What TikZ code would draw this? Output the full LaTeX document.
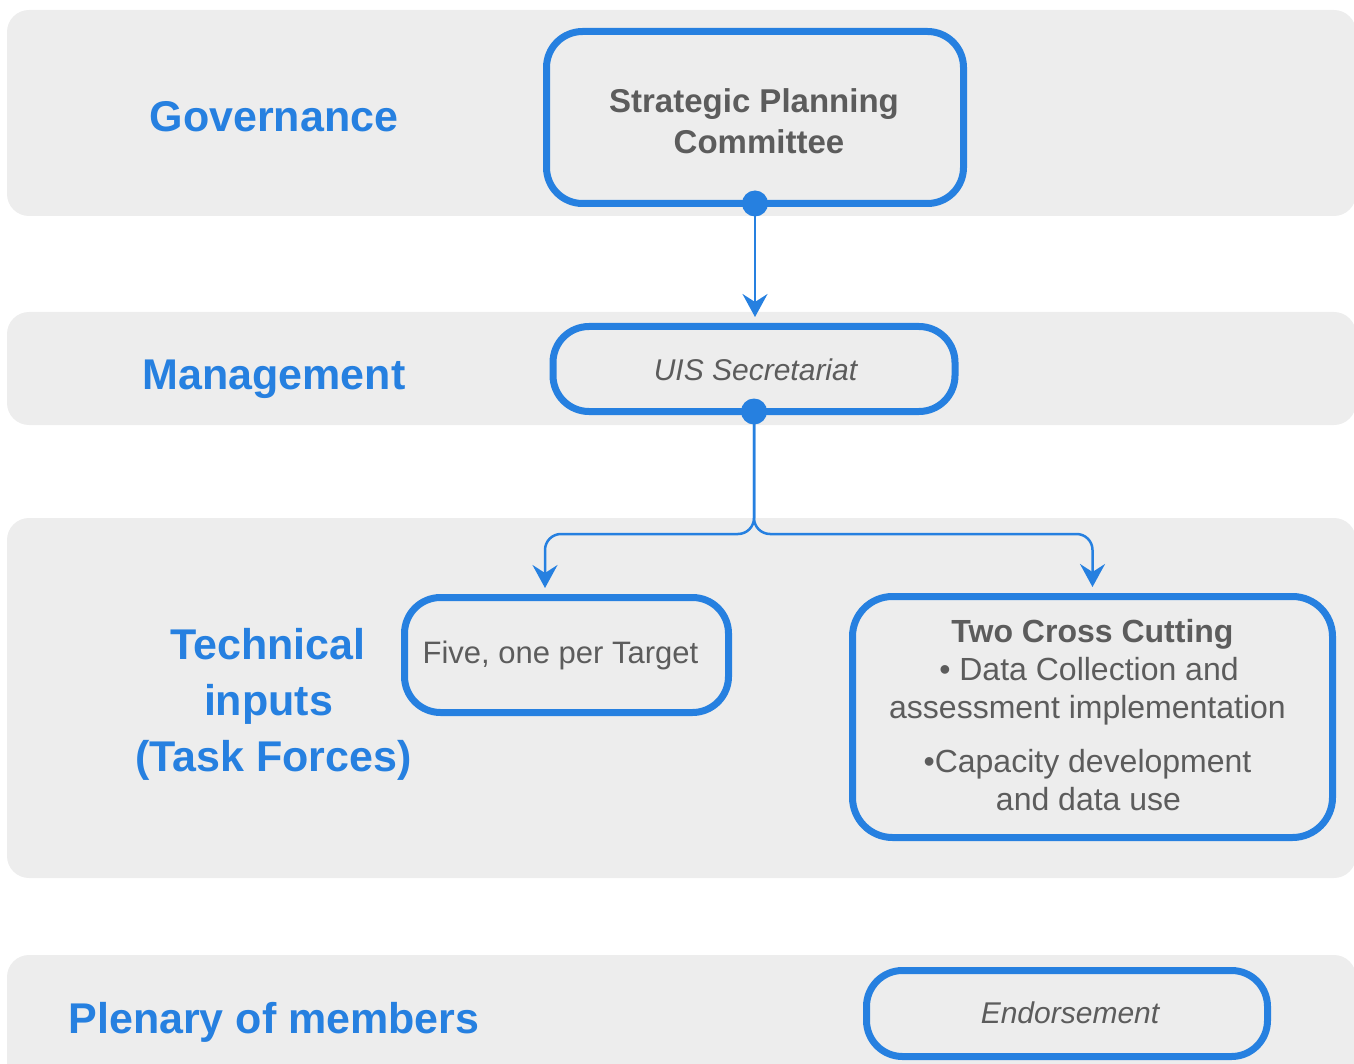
\documentclass[tikz,border=0pt]{standalone}
\usepackage{fontspec}
\setmainfont{Liberation Sans}
\usetikzlibrary{arrows.meta}
\definecolor{bandgray}{HTML}{EDEDED}
\definecolor{uisblue}{HTML}{2680E0}
\definecolor{txtgray}{HTML}{5C5C5C}
\begin{document}
\begin{tikzpicture}[x=1pt,y=-1pt,
  band/.style={fill=bandgray, rounded corners=22pt},
  box/.style={draw=uisblue, line width=7pt, rounded corners=36pt, outer sep=0pt, inner sep=0pt, fill=bandgray},
  conn/.style={draw=uisblue, line width=2.5pt, rounded corners=16pt, -{Stealth[length=23pt,width=25pt,inset=8pt]}, shorten >=9.5pt},
  dot/.style={fill=uisblue},
  lbl/.style={text=uisblue, font=\fontsize{43}{50}\selectfont\bfseries, anchor=base, inner sep=0pt},
  btxt/.style={text=txtgray, font=\fontsize{32}{38}\selectfont, anchor=base, inner sep=0pt}
]
\useasboundingbox (0,0) rectangle (1354,1064);
% bands
\fill[band] (7,10) rectangle (1356,216);
\fill[band] (7,312) rectangle (1356,425);
\fill[band] (7,518) rectangle (1356,878);
\fill[band] (7,955) rectangle (1356,1110);
% row labels
\node[lbl] (gov) at (274,132) {Governance};
\node[lbl] (man) at (274,389) {Management};
\node[lbl] (tech1) at (268,659) {Technical};
\node[lbl] (tech2) at (268.5,715) {inputs};
\node[lbl] (tech3) at (273.5,771) {(Task Forces)};
\node[lbl] (plen) at (274,1033) {Plenary of members};
% boxes
\node[box, minimum width=417pt, minimum height=172pt] (spc) at (755,117.5) {};
\node[box, minimum width=402pt, minimum height=85pt] (uis) at (754,369) {};
\node[box, minimum width=324pt, minimum height=115pt] (five) at (566.5,655) {};
\node[box, minimum width=480pt, minimum height=241pt, rounded corners=40pt] (cross) at (1092.5,717) {};
\node[box, minimum width=401pt, minimum height=86pt] (endo) at (1067,1013.5) {};
% box texts
\node[btxt, font=\fontsize{33}{38}\selectfont\bfseries] (spc1) at (754,113) {Strategic Planning};
\node[btxt, font=\fontsize{33}{38}\selectfont\bfseries] (spc2) at (759,154) {Committee};
\node[btxt, font=\fontsize{30}{36}\selectfont\itshape] (uist) at (755.5,380) {UIS Secretariat};
\node[btxt, font=\fontsize{31}{36}\selectfont] (fivet) at (560.5,663) {Five, one per Target};
\node[btxt, font=\fontsize{32}{38}\selectfont\bfseries] (cr1) at (1092.5,642) {Two Cross Cutting};
\node[btxt] (cr2) at (1089,680) {• Data Collection and};
\node[btxt] (cr3) at (1087.5,718) {assessment implementation};
\node[btxt] (cr4) at (1087.5,772) {•Capacity development};
\node[btxt] (cr5) at (1088.5,810) {and data use};
\node[btxt, font=\fontsize{30}{36}\selectfont\itshape] (endot) at (1070,1023) {Endorsement};
% connectors
\draw[conn] (spc.south) -- (uis.north -| spc.south);
\coordinate (jn) at (754,534);
\coordinate (lt) at (545,534);
\coordinate (rt) at (1092.5,534);
\draw[conn] (uis.south) -- (jn) -- (lt) -- ([xshift=-21.5pt]five.north);
\draw[conn] (uis.south) -- (jn) -- (rt) -- (cross.north);
% dots
\fill[dot] (spc.south) circle (13pt);
\fill[dot] (uis.south) circle (13pt);
\end{tikzpicture}
\end{document}
